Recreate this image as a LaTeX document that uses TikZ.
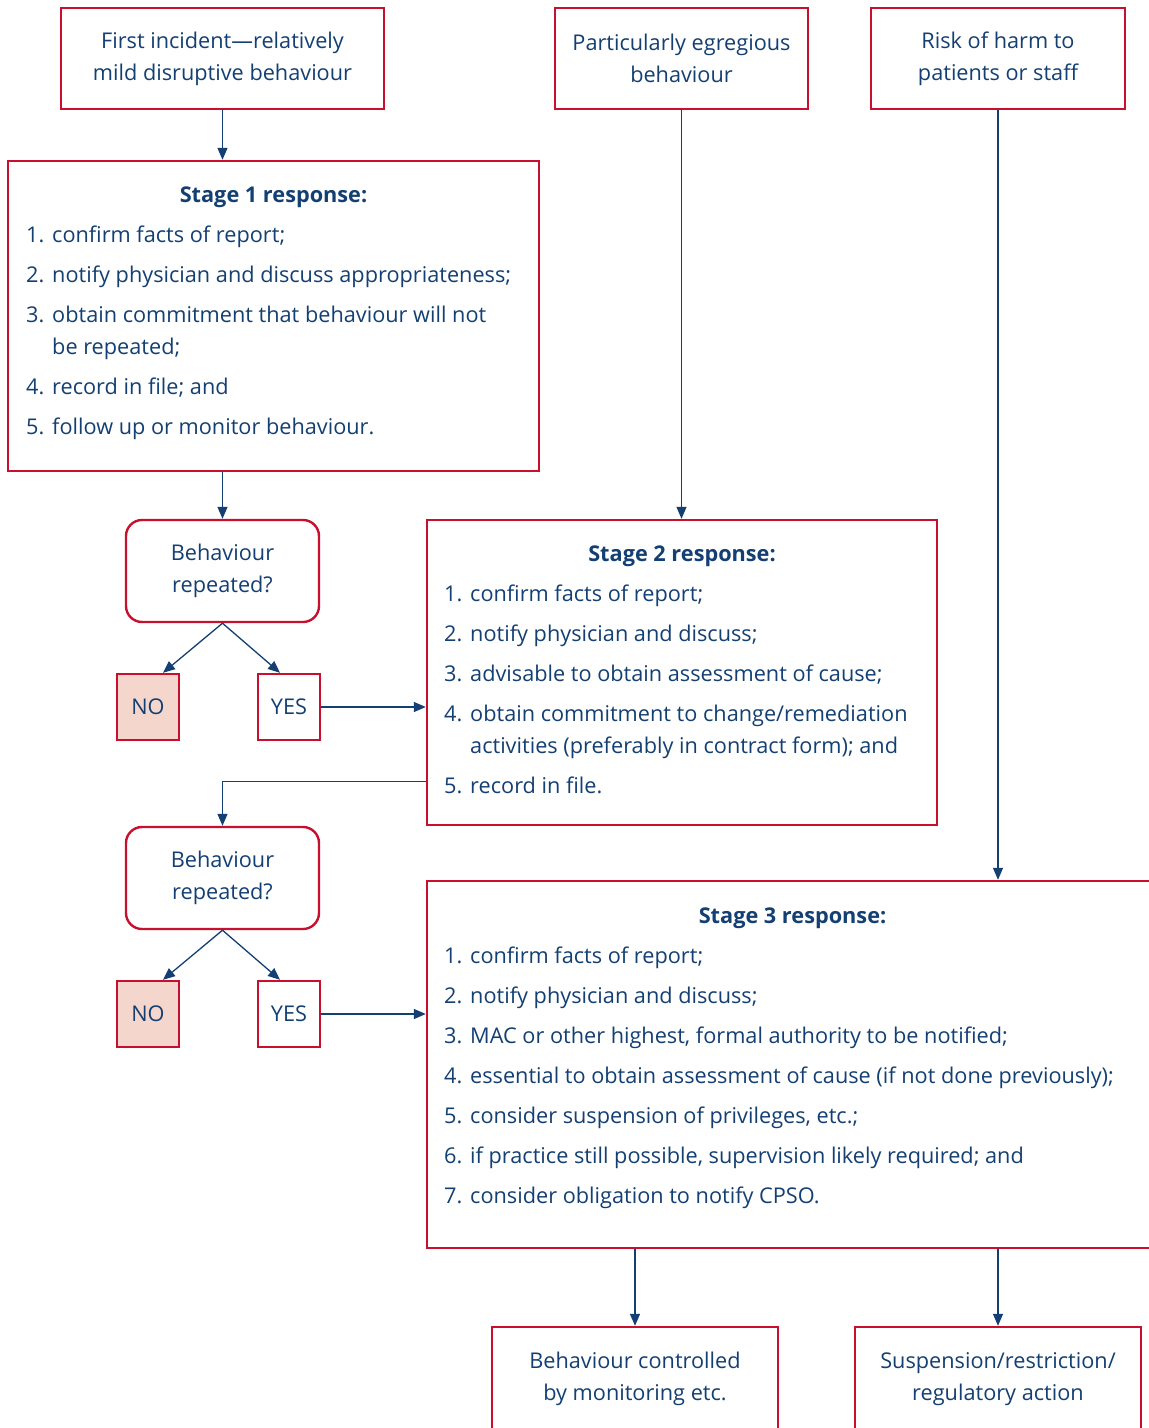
\documentclass[tikz,border=0pt]{standalone}
\usepackage{fontspec}
\setmainfont{Open Sans}
\usetikzlibrary{arrows.meta}
\definecolor{navy}{HTML}{133F73}
\definecolor{boxred}{HTML}{C8102E}
\definecolor{nopink}{HTML}{F5D6CC}
\newcommand\nr[1]{\makebox[26pt][l]{#1}}

\begin{document}
\begin{tikzpicture}[x=1pt,y=-1pt,
	font=\fontsize{21.7}{32}\selectfont, text=navy,
	box/.style={draw=boxred, line width=2.4pt, inner sep=0pt, align=center},
	ask/.style={box, rounded corners=16pt, minimum width=193pt, minimum height=102pt},
	ans/.style={box, minimum width=62pt, minimum height=66pt},
	arr/.style={draw=navy, line width=1.3pt, -{Triangle[length=12pt,width=10pt]}},
	title/.style={anchor=base, font=\fontsize{21.7}{32}\selectfont\bfseries},
	list/.style={anchor=north west, inner sep=0pt, align=left,
		execute at begin node=\rule{0pt}{22pt}}]
	\useasboundingbox (0,0) rectangle (1149,1428);

	% top row
	\node[box, minimum width=323pt, minimum height=101pt] (top1) at (222.5,58.5) {First incident---relatively\\mild disruptive behaviour};
	\node[box, minimum width=253pt, minimum height=101pt] (top2) at (681.5,58.5) {Particularly egregious\\behaviour};
	\node[box, minimum width=254pt, minimum height=101pt] (top3) at (998,58.5) {Risk of harm to\\patients or staff};

	% stage 1
	\node[box, minimum width=531pt, minimum height=310pt] (st1) at (273.5,316) {};
	\node[title] (st1t) at (273.5,202) {Stage 1 response:};
	\node[list] (st1l) at (26,226) {\nr{1.}confirm facts of report;\\[8pt]
		\nr{2.}notify physician and discuss appropriateness;\\[8pt]
		\nr{3.}obtain commitment that behaviour will not\\
		\nr{}be repeated;\\[8pt]
		\nr{4.}record in file; and\\[8pt]
		\nr{5.}follow up or monitor behaviour.};

	% first check
	\node[ask] (rep1) at (222.5,571) {Behaviour\\repeated?};
	\node[ans, fill=nopink] (no1) at (148,707) {NO};
	\node[ans] (yes1) at (289,707) {YES};

	% stage 2
	\node[box, minimum width=510pt, minimum height=305pt] (st2) at (682,672.5) {};
	\node[title] (st2t) at (682,561) {Stage 2 response:};
	\node[list] (st2l) at (444,585) {\nr{1.}confirm facts of report;\\[8pt]
		\nr{2.}notify physician and discuss;\\[8pt]
		\nr{3.}advisable to obtain assessment of cause;\\[8pt]
		\nr{4.}obtain commitment to change/remediation\\
		\nr{}activities (preferably in contract form); and\\[8pt]
		\nr{5.}record in file.};

	% second check
	\node[ask] (rep2) at (222.5,878) {Behaviour\\repeated?};
	\node[ans, fill=nopink] (no2) at (148,1014) {NO};
	\node[ans] (yes2) at (289,1014) {YES};

	% stage 3
	\node[box, minimum width=731pt, minimum height=367pt] (st3) at (792.5,1064.5) {};
	\node[title] (st3t) at (792.5,923) {Stage 3 response:};
	\node[list] (st3l) at (444,947) {\nr{1.}confirm facts of report;\\[8pt]
		\nr{2.}notify physician and discuss;\\[8pt]
		\nr{3.}MAC or other highest, formal authority to be notified;\\[8pt]
		\nr{4.}essential to obtain assessment of cause (if not done previously);\\[8pt]
		\nr{5.}consider suspension of privileges, etc.;\\[8pt]
		\nr{6.}if practice still possible, supervision likely required; and\\[8pt]
		\nr{7.}consider obligation to notify CPSO.};

	% outcomes
	\node[box, minimum width=286pt, minimum height=104pt] (bot1) at (635,1379) {Behaviour controlled\\by monitoring etc.};
	\node[box, minimum width=286pt, minimum height=104pt] (bot2) at (998,1379) {Suspension/restriction/\\regulatory action};

	\draw[arr] (top1) -- (top1 |- st1.north);
	\draw[arr] (top2) -- (top2 |- st2.north);
	\draw[arr] (top3) -- (top3 |- st3.north);
	\draw[arr] (rep1 |- st1.south) -- (rep1);
	\draw[arr] (rep1.south) -- ([xshift=15pt]no1.north);
	\draw[arr] (rep1.south) -- ([xshift=-9pt]yes1.north);
	\draw[arr] (yes1) -- (yes1 -| st2.west);
	\draw[arr] ([yshift=45pt]st2.south west) -| (rep2);
	\draw[arr] (rep2.south) -- ([xshift=15pt]no2.north);
	\draw[arr] (rep2.south) -- ([xshift=-9pt]yes2.north);
	\draw[arr] (yes2) -- (yes2 -| st3.west);
	\draw[arr] (st3.south -| bot1) -- (bot1);
	\draw[arr] (st3.south -| bot2) -- (bot2);
\end{tikzpicture}
\end{document}
